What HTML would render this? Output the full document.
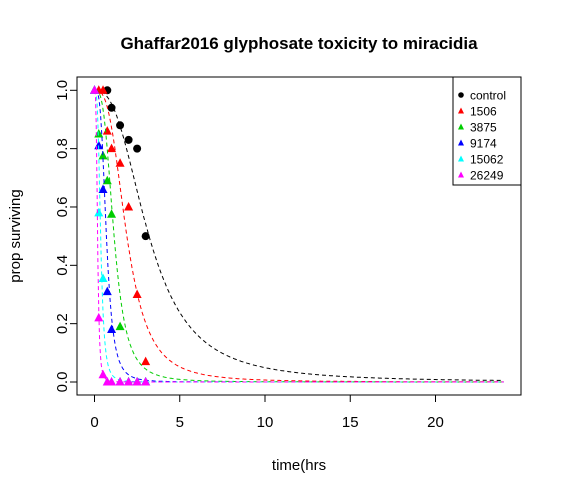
<!DOCTYPE html>
<html><head><meta charset="utf-8"><style>body{margin:0;background:#fff}svg{display:block}text{font-family:"Liberation Sans",Arial,sans-serif}</style></head>
<body>
<svg id="chart" width="563" height="492"></svg>
<script>
const seriesNames=["control","1506","3875","9174","15062","26249"];
const seriesColors=["#000000","#ff0000","#00cd00","#0000ff","#00ffff","#ff00ff"];
const timesControl=[0.75,1,1.5,2,2.5,3];
const valsControl=[1,0.94,0.88,0.83,0.80,0.50];
const times1506=[0.25,0.5,0.75,1,1.5,2,2.5,3];
const vals1506=[1,1,0.86,0.80,0.75,0.60,0.30,0.07];
const times3875=[0,0.25,0.5,0.75,1,1.5,2,2.5,3];
const vals3875=[1,0.85,0.775,0.69,0.575,0.19,0,0,0];
const times9174=[0,0.25,0.5,0.75,1,1.5,2,2.5,3];
const vals9174=[1,0.81,0.66,0.31,0.18,0,0,0,0];
const times15062=[0,0.25,0.5,0.75,1,1.5,2,2.5,3];
const vals15062=[1,0.58,0.355,0,0,0,0,0,0];
const times26249=[0,0.25,0.5,0.75,1,1.5,2,2.5,3];
const vals26249=[1,0.22,0.025,0,0,0,0,0,0];
const fitLT50=[3.2,1.9,1.15,0.7,0.36,0.18];
const fitSlope=[2.6,3.0,3.2,3.5,3.5,3.5];
const xTicks=[0,5,10,15,20];
const yTicks=[0,0.2,0.4,0.6,0.8,1.0];
const yTickLabels=["0.0","0.2","0.4","0.6","0.8","1.0"];

const NS="http://www.w3.org/2000/svg";
const svg=document.getElementById('chart');
const X=t=>94.5+t*17.05;
const Y=v=>382-v*291.7;
function mk(tag,attrs,parent){const e=document.createElementNS(NS,tag);for(const k in attrs)e.setAttribute(k,attrs[k]);(parent||svg).appendChild(e);return e;}

let t=mk('text',{x:299,y:49,'text-anchor':'middle','font-size':17,'font-weight':'bold'});t.textContent="Ghaffar2016 glyphosate toxicity to miracidia";


let box=mk('rect',{x:77,y:77,width:444,height:318,fill:'none',stroke:'#000'});


xTicks.forEach(v=>{mk('line',{x1:X(v),x2:X(v),y1:395,y2:402,stroke:'#000'});
 const l=mk('text',{x:X(v),y:427,'text-anchor':'middle','font-size':15});l.textContent=v;
 
 });
mk('line',{x1:X(0),x2:X(20),y1:395,y2:395,stroke:'#000'});
yTicks.forEach((v,i)=>{mk('line',{x1:70,x2:77,y1:Y(v),y2:Y(v),stroke:'#000'});
 const l=mk('text',{x:0,y:0,'text-anchor':'middle','font-size':15,transform:`translate(67,${Y(v)}) rotate(-90)`});l.textContent=yTickLabels[i];
 
 });
t=mk('text',{x:299,y:470,'text-anchor':'middle','font-size':15});t.textContent="time(hrs";


t=mk('text',{x:0,y:0,'text-anchor':'middle','font-size':15,transform:'translate(20,236) rotate(-90)'});t.textContent="prop surviving";



const allT=[timesControl,times1506,times3875,times9174,times15062,times26249];
const allV=[valsControl,vals1506,vals3875,vals9174,vals15062,vals26249];
function tri(x,y,c,parent){return mk('polygon',{points:`${x},${y-5} ${x-4.5},${y+3.5} ${x+4.5},${y+3.5}`,fill:c},parent);}
for(let s=0;s<6;s++){
 let d='';for(let i=0;i<=480;i++){const tt=i*0.05;const v=1/(1+Math.pow(tt/fitLT50[s],fitSlope[s]));d+=(i?'L':'M')+X(tt).toFixed(1)+','+Y(v).toFixed(1);}
 const p=mk('path',{d:d,fill:'none',stroke:seriesColors[s],'stroke-width':1,'stroke-dasharray':'4,3'});
 
 
 const ts=allT[s],vs=allV[s];
 ts.forEach((tt,i)=>{let e;if(s===0)e=mk('circle',{cx:X(tt),cy:Y(vs[i]),r:4,fill:seriesColors[s]});else e=tri(X(tt),Y(vs[i]),seriesColors[s]);
 
 });}
// legend
const lg=mk('g',{});


mk('rect',{x:453,y:77,width:68,height:108,fill:'#fff',stroke:'#000'},lg);
seriesNames.forEach((n,i)=>{const y=95+i*16;
 const g=mk('g',{},lg);
 
 
 if(i===0)mk('circle',{cx:461,cy:y,r:2.8,fill:seriesColors[i]},g);else mk('polygon',{points:`461,${y-3.5} 458,${y+2.5} 464,${y+2.5}`,fill:seriesColors[i]},g);
 const l=mk('text',{x:470,y:y+4.5,'font-size':12},g);l.textContent=n;});
</script>
</body></html>
